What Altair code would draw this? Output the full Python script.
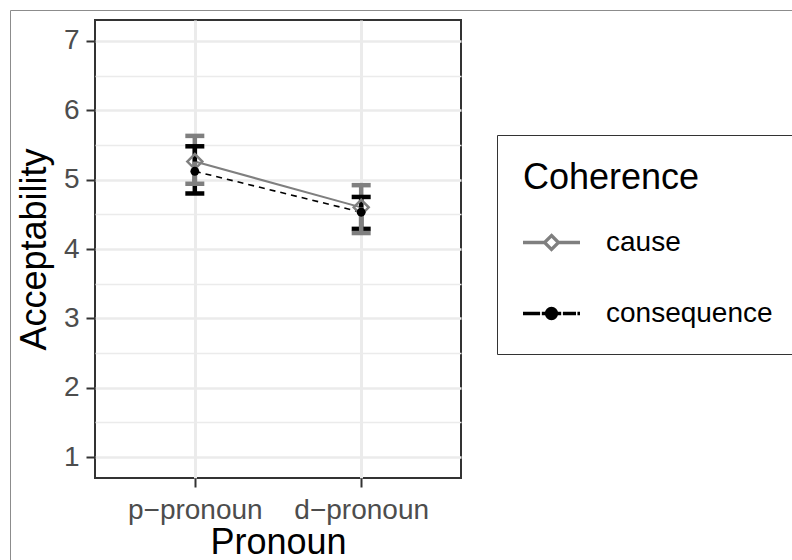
import altair as alt
import pandas as pd

# Conditions and summary statistics (mean with interval bounds)
pronouns = ["p−pronoun", "d−pronoun"]
coherence_levels = ["cause", "consequence"]

cause_mean = [5.26, 4.60]
cause_lower = [4.94, 4.23]
cause_upper = [5.63, 4.92]

consequence_mean = [5.12, 4.53]
consequence_lower = [4.80, 4.29]
consequence_upper = [5.48, 4.75]

y_ticks = [1, 2, 3, 4, 5, 6, 7]
y_minor = [1.5, 2.5, 3.5, 4.5, 5.5, 6.5]

GRAY = "#7F7F7F"
FONT = "Liberation Sans"

rows = []
for i, p in enumerate(pronouns):
    rows.append(dict(pronoun=p, coherence="cause", mean=cause_mean[i],
                     lo=cause_lower[i], hi=cause_upper[i]))
    rows.append(dict(pronoun=p, coherence="consequence", mean=consequence_mean[i],
                     lo=consequence_lower[i], hi=consequence_upper[i]))
df = pd.DataFrame(rows)

x_scale = alt.Scale(type="point", padding=0.6)
y_scale = alt.Scale(domain=[0.7, 7.3], nice=False, zero=False)

x_axis = alt.Axis(
    title="Pronoun", labelAngle=0, labelFont=FONT, labelFontSize=28,
    labelColor="#4D4D4D", labelPadding=9, tickSize=9, tickWidth=2,
    tickColor="#333333", domain=False, grid=True, gridColor="#EBEBEB",
    gridWidth=3, titleFont=FONT, titleFontSize=36, titleFontWeight="normal",
    titleColor="black", titlePadding=1,
)
y_axis = alt.Axis(
    title="Acceptability", values=y_ticks, labelFont=FONT, labelFontSize=28,
    labelColor="#4D4D4D", labelPadding=7, tickSize=9, tickWidth=2,
    tickColor="#333333", domain=False, grid=True, gridColor="#EBEBEB",
    gridWidth=2.5, titleFont=FONT, titleFontSize=36, titleFontWeight="normal",
    titleColor="black", titlePadding=10,
)
minor_axis = alt.Axis(
    orient="right", values=y_minor, labels=False, ticks=False, domain=False,
    grid=True, gridColor="#EBEBEB", gridWidth=1.3, title=None,
)

X = alt.X("pronoun:N", sort=pronouns, scale=x_scale, axis=x_axis)


def Y(field, axis=None):
    return alt.Y(f"{field}:Q", scale=y_scale, axis=axis)


base = alt.Chart(df)
cause = base.transform_filter("datum.coherence == 'cause'")
cons = base.transform_filter("datum.coherence == 'consequence'")

# grids (major on the left axis, minor on a label-less second axis)
major_grid = base.mark_point(opacity=0).encode(x=X, y=Y("mean", y_axis))
minor_grid = base.mark_point(opacity=0).encode(x=X, y=Y("mean", minor_axis))

# connecting lines
cause_line = cause.mark_line(color=GRAY, strokeWidth=2).encode(x=X, y=Y("mean"))
cons_line = cons.mark_line(color="black", strokeWidth=1.6, strokeDash=[6, 5]).encode(
    x=X, y=Y("mean"))

# error bars
BAR_W = 4.5
CAP = dict(size=19, thickness=4.5)
cause_up_rule = cause.mark_rule(color=GRAY, strokeWidth=BAR_W).encode(
    x=X, y=Y("mean"), y2="hi:Q")
cause_up_cap = cause.mark_tick(color=GRAY, opacity=1, **CAP).encode(
    x=X, y=Y("hi"))
cons_rule = cons.mark_rule(color="black", strokeWidth=BAR_W).encode(
    x=X, y=Y("lo"), y2="hi:Q")
cons_cap_hi = cons.mark_tick(color="black", opacity=1, **CAP).encode(
    x=X, y=Y("hi"))
cons_cap_lo = cons.mark_tick(color="black", opacity=1, **CAP).encode(
    x=X, y=Y("lo"))
cause_lo_rule = cause.mark_rule(color=GRAY, strokeWidth=BAR_W).encode(
    x=X, y=Y("lo"), y2="mean:Q")
cause_lo_cap = cause.mark_tick(color=GRAY, opacity=1, **CAP).encode(
    x=X, y=Y("lo"))

# means
cause_pts = cause.mark_point(shape="diamond", filled=False, color=GRAY,
                             size=225, strokeWidth=2.5, opacity=1).encode(
    x=X, y=Y("mean"))
cons_pts = cons.mark_point(shape="circle", filled=True, color="black",
                           size=78, opacity=1).encode(x=X, y=Y("mean"))

# legend keys: line with marker
cause_key = ("M-1,0H-0.26M0.26,0H1"
             "M0,-0.245L0.245,0L0,0.245L-0.245,0Z")
cons_key = ("M-1,0H-0.4M-0.34,0H0.34M0.4,0H0.86M0.91,0H1"
            "M0.175,0A0.175,0.175 0 1,1 -0.175,0A0.175,0.175 0 1,1 0.175,0Z")

legend = alt.Legend(
    title="Coherence", orient="none", legendX=402, legendY=115,
    padding=26, strokeColor="#333333", fillColor="white",
    titleFont=FONT, titleFontSize=36, titleFontWeight="normal",
    titleColor="black", titlePadding=15, labelFont=FONT, labelFontSize=28,
    labelColor="black", labelOffset=24, labelLimit=0, rowPadding=26,
    symbolSize=3249, symbolStrokeWidth=3.3, symbolOpacity=1, symbolOffset=-2,
)
key_layer = base.transform_filter("datum.mean > 100").mark_point(
    size=3249, strokeWidth=3.3, filled=True, opacity=1).encode(
    shape=alt.Shape("coherence:N", scale=alt.Scale(domain=coherence_levels,
                    range=[cause_key, cons_key]), legend=legend),
    fill=alt.Fill("coherence:N", scale=alt.Scale(domain=coherence_levels,
                  range=["white", "black"]), legend=legend),
    stroke=alt.Stroke("coherence:N", scale=alt.Scale(domain=coherence_levels,
                      range=[GRAY, "black"]), legend=legend),
)

# outer figure frame (left and top edges)
frame_df = pd.DataFrame({"k": [0]})
frame_left = alt.Chart(frame_df).mark_rule(color="#8C8C8C", strokeWidth=1).encode(
    x=alt.value(-84.5), y=alt.value(-9.5), y2=alt.value(545))
frame_top = alt.Chart(frame_df).mark_rule(color="#8C8C8C", strokeWidth=1).encode(
    x=alt.value(-84.5), x2=alt.value(710), y=alt.value(-9.5))

chart = alt.layer(
    major_grid, minor_grid, cause_line, cons_line,
    cause_up_rule, cause_up_cap, cons_rule, cons_cap_hi, cons_cap_lo,
    cause_lo_rule, cause_lo_cap, cause_pts, cons_pts, key_layer,
    frame_left, frame_top,
).resolve_axis(y="independent").properties(
    width=366, height=458,
    padding={"left": 95, "top": 20, "right": 331, "bottom": 82},
    autosize=alt.AutoSizeParams(type="none"),
).configure(font=FONT).configure_view(stroke="#333333", strokeWidth=2)

chart.save("out.html", embed_options={"renderer": "svg", "actions": False})
